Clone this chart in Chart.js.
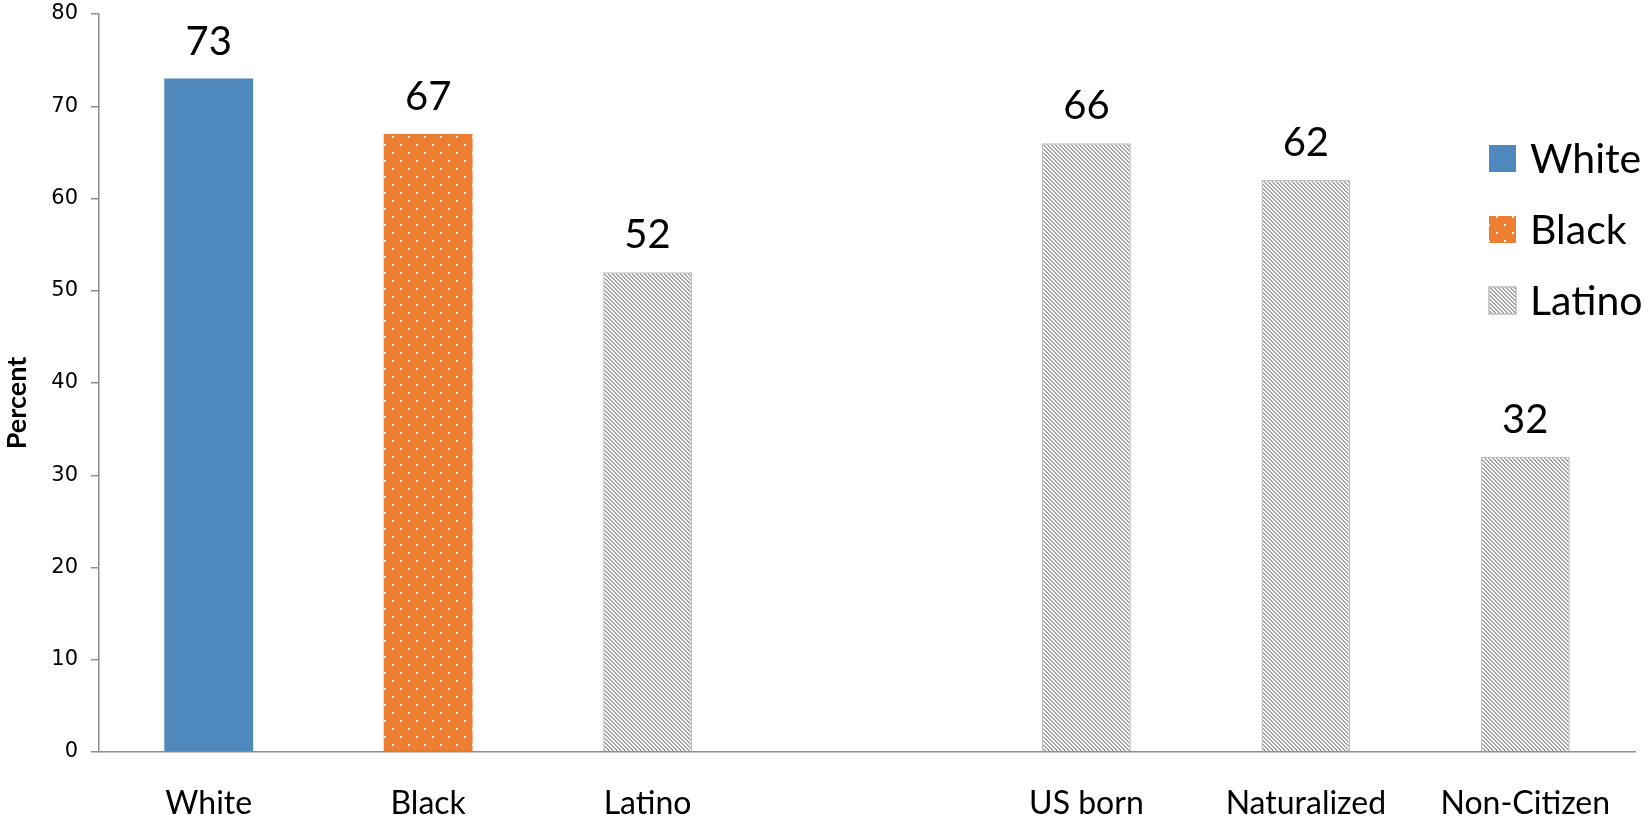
<!DOCTYPE html>
<html>
<head>
<meta charset="utf-8">
<script src="https://cdn.jsdelivr.net/npm/chart.js@4.4.1/dist/chart.umd.min.js"></script>
<style>
  html, body { margin: 0; padding: 0; background: #fff; }
  #wrap { width: 1648px; height: 819px; position: relative; }
</style>
</head>
<body>
<div id="wrap"><canvas id="groupBarChart"></canvas></div>
<script>
// categories (empty slot keeps the gap between the two groups)
const categories = ["White", "Black", "Latino", "", "US born", "Naturalized", "Non-Citizen"];
const percentValues = [73, 67, 52, null, 66, 62, 32];
// which legend group each bar belongs to
const barGroup = ["White", "Black", "Latino", "Latino", "Latino", "Latino", "Latino"];
const legendLabels = ["White", "Black", "Latino"];
const yTicks = [0, 10, 20, 30, 40, 50, 60, 70, 80];
const yTitle = "Percent";

const BLUE = "#4F88BC";
const ORANGE = "#ED7D31";
const GRAY = "#A5A5A5";

// small tile patterns like the office fills
function dotPattern() {
  const c = document.createElement("canvas");
  c.width = 16; c.height = 16;
  const g = c.getContext("2d");
  g.fillStyle = ORANGE;
  g.fillRect(0, 0, 16, 16);
  g.fillStyle = "#fff";
  g.fillRect(0, 0, 2, 2);
  g.fillRect(8, 8, 2, 2);
  return g.createPattern(c, "repeat");
}

function diagPattern() {
  const c = document.createElement("canvas");
  c.width = 4; c.height = 4;
  const g = c.getContext("2d");
  g.fillStyle = GRAY;
  g.fillRect(0, 0, 4, 4);
  g.fillStyle = "#fff";
  for (let y = 0; y < 4; y++) {
    for (let x = 0; x < 4; x++) {
      const k = ((x - y) % 4 + 4) % 4;
      if (k === 0 || k === 1) g.fillRect(x, y, 1, 1);
    }
  }
  return g.createPattern(c, "repeat");
}

const fills = { White: BLUE, Black: dotPattern(), Latino: diagPattern() };
const borders = { White: BLUE, Black: ORANGE, Latino: "#BDBDBD" };

// value labels above each bar
const valueLabels = {
  id: "valueLabels",
  afterDatasetsDraw(chart) {
    const ctx = chart.ctx;
    const meta = chart.getDatasetMeta(0);
    ctx.save();
    ctx.font = "40px Lato";
    ctx.fillStyle = "#000";
    ctx.textAlign = "center";
    ctx.textBaseline = "alphabetic";
    meta.data.forEach((bar, i) => {
      if (percentValues[i] == null) return;
      ctx.fillText(String(percentValues[i]), bar.x, bar.y - 24);
    });
    ctx.restore();
  }
};

// rotated axis title, a bit below the middle like the original
const axisTitle = {
  id: "axisTitle",
  afterDraw(chart) {
    const ctx = chart.ctx;
    const area = chart.chartArea;
    ctx.save();
    ctx.translate(17, (area.top + area.bottom) / 2 + 20);
    ctx.rotate(-Math.PI / 2);
    ctx.font = "bold 27px Lato";
    ctx.fillStyle = "#000";
    ctx.textAlign = "center";
    ctx.textBaseline = "middle";
    ctx.fillText(yTitle, 0, 0);
    ctx.restore();
  }
};

// legend drawn over the right side of the plot
const sideLegend = {
  id: "sideLegend",
  afterDraw(chart) {
    const ctx = chart.ctx;
    const area = chart.chartArea;
    const boxX = area.right - 146;
    const top = 145;
    const step = 71;
    const box = 27;
    ctx.save();
    ctx.font = "41px Lato";
    ctx.textBaseline = "middle";
    ctx.textAlign = "left";
    legendLabels.forEach((name, i) => {
      const y = top + i * step;
      ctx.fillStyle = fills[name];
      ctx.fillRect(boxX, y, box, box);
      if (name === "Latino") {
        ctx.strokeStyle = borders.Latino;
        ctx.lineWidth = 1.5;
        ctx.strokeRect(boxX, y, box, box);
      }
      ctx.fillStyle = "#000";
      ctx.fillText(name, boxX + 41, y + box / 2 + 1);
    });
    ctx.restore();
  }
};

const ctx = document.getElementById("groupBarChart").getContext("2d");
new Chart(ctx, {
  type: "bar",
  data: {
    labels: categories,
    datasets: [{
      label: "Percent",
      data: percentValues,
      backgroundColor: barGroup.map(g => fills[g]),
      borderColor: barGroup.map(g => borders[g]),
      borderWidth: barGroup.map(g => (g === "Latino" ? 1.5 : 0)),
      categoryPercentage: 1,
      barPercentage: 0.405,
    }],
  },
  options: {
    responsive: true,
    maintainAspectRatio: false,
    animation: false,
    layout: { padding: { top: 14, right: 13, left: 0, bottom: 0 } },
    plugins: {
      legend: { display: false },
      tooltip: { enabled: false },
    },
    scales: {
      x: {
        grid: { display: false, drawTicks: false },
        border: { display: true, color: "#8E8E8E", width: 1.5 },
        ticks: {
          color: "#000",
          font: { family: "Lato", size: 32 },
          padding: 32,
          maxRotation: 0,
          autoSkip: false,
        },
        afterFit(scale) { scale.height = 67; },
      },
      y: {
        min: 0,
        max: 80,
        afterBuildTicks(scale) { scale.ticks = yTicks.map(v => ({ value: v })); },
        grid: { display: true, drawOnChartArea: false, tickLength: 8, color: "#8E8E8E", lineWidth: 1.5 },
        border: { display: true, color: "#8E8E8E", width: 1.5 },
        ticks: {
          color: "#000",
          font: { family: "DejaVu Sans", size: 21 },
          padding: 13,
        },
        afterFit(scale) {
          scale.width = 99;
          // keep the top label from pushing the plot down
          scale.paddingTop = 0;
          scale.paddingBottom = 0;
        },
      },
    },
  },
  plugins: [valueLabels, axisTitle, sideLegend],
});
</script>
</body>
</html>
